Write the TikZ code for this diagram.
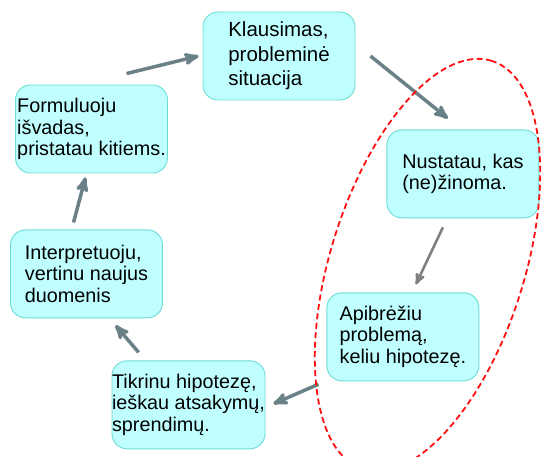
\documentclass[tikz,border=0pt]{standalone}
\usepackage{fontspec}
\setmainfont{Liberation Sans}
\usetikzlibrary{arrows,positioning}
\definecolor{boxfill}{HTML}{C0FFFF}
\definecolor{boxline}{HTML}{6ADCD4}
\definecolor{arrowgray}{HTML}{6B8188}
\definecolor{ovalred}{HTML}{FF1010}

\begin{document}
\begin{tikzpicture}[->,>=stealth',x=1pt,y=-1pt,
                    stagebox/.style={rectangle,rounded corners=15pt,draw=boxline,fill=boxfill,
                      line width=0.9pt,minimum width=152pt,minimum height=88pt,inner sep=0pt,
                      align=left,font=\fontsize{19.8}{21.5}\selectfont},
                    flow/.style={draw=arrowgray,line width=3.5pt},
                    oval/.style={-,draw=ovalred,line width=1.8pt,dash pattern=on 6pt off 3.5pt}]

  	\useasboundingbox (0,0) rectangle (543,457);

  	\node[stagebox,font=\fontsize{20.5}{24.5}\selectfont] (K) at (279,56) {Klausimas,\\probleminė\\situacija};
  	\node[stagebox](N) [below right=29pt and 31pt of K]   	{Nustatau, kas\\(ne)žinoma.};
  	\node[stagebox](A) [below=74pt of N, xshift=-60pt]   	{Apibrėžiu\\problemą,\\keliu hipotezę.};
  	\node[stagebox](T) [left=61pt of A, yshift=-68pt]   	{Tikrinu hipotezę,\\ieškau atsakymų,\\sprendimų.};
  	\node[stagebox](I) [above=42pt of T, xshift=-102pt]   	{Interpretuoju,\\vertinu naujus\\duomenis};
  	\node[stagebox](F) [above=56pt of I, xshift=5pt]   	{Formuluoju\\išvadas,\\pristatau kitiems.};

	\path ([shift={(35,-11)}]F.north) edge[flow]   	([shift={(-4,0)}]K.west);
	\path ([shift={(15,0)}]K.east) edge[flow]   	([shift={(-15,-11)}]N.north);
	\path ([shift={(-20,9)}]N.south) edge[flow,line width=2.6pt,draw=gray]   	([shift={(13,-8)}]A.north);
	\path ([shift={(-8,3)}]A.south west) edge[flow]   	([shift={(8,-1)}]T.east);
	\path ([shift={(27,-8)}]T.north west) edge[flow]   	([shift={(29,7)}]I.south);
	\path ([shift={(-13,-7)}]I.north) edge[flow]   	([shift={(-6,4)}]F.south);

	\draw[oval,rotate around={72.5:(427.5,265)}] (427.5,265) ellipse (214pt and 97pt);

\end{tikzpicture}
\end{document}
